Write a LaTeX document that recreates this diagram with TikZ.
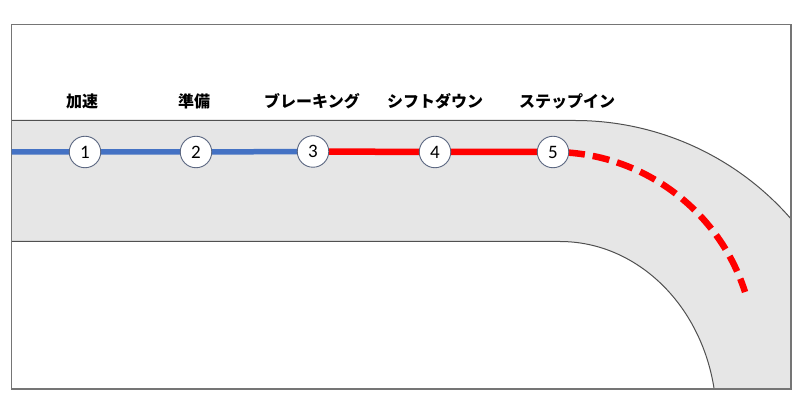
\documentclass[tikz,border=0pt]{standalone}
\usepackage{fontspec}
\setmainfont{Carlito}
\newfontfamily\jp{Noto Sans CJK JP}
\definecolor{bluec}{HTML}{4472C4}
\definecolor{roadgray}{HTML}{E6E6E6}
\definecolor{framec}{HTML}{757575}
\definecolor{edgec}{HTML}{505050}
\definecolor{ringc}{HTML}{5A6680}
\pgfdeclarelayer{road}
\pgfdeclarelayer{lines}
\pgfsetlayers{road,lines,main}
\begin{document}
\begin{tikzpicture}[x=1pt,y=1pt,
  roadedge/.style={draw=edgec, line width=1pt},
  stop/.style={circle, draw=ringc, fill=white, line width=0.9pt, minimum size=31.5pt, inner sep=0pt, font=\fontsize{19}{19}\selectfont},
  lbl/.style={font=\jp\bfseries\fontsize{16}{16}\selectfont},
  blueline/.style={draw=bluec, line width=5.5pt},
  redline/.style={draw=red, line width=6.5pt}]
\useasboundingbox (0,0) rectangle (800,420);
% stops
\node[stop] (c1) at (85,268) {1};
\node[stop] (c2) at (196,268) {2};
\node[stop] (c3) at (313,268.5) {3};
\node[stop] (c4) at (435,268) {4};
\node[stop] (c5) at (553,268) {5};
% labels
\node[lbl] (l1) at (82,319) {加速};
\node[lbl] (l2) at (194,319) {準備};
\node[lbl] (l3) at (312,319) {ブレーキング};
\node[lbl] (l4) at (435,319) {シフトダウン};
\node[lbl] (l5) at (567,319) {ステップイン};
\begin{pgfonlayer}{road}
\fill[roadgray] (11.5,299.5) -- (575,299.5) arc[start angle=90,end angle=41.2,radius=286.3]
  -- (791,201.8) -- (791,31) -- (714.1,31)
  arc[start angle=10,end angle=90,x radius=156.5,y radius=178.5] -- (11.5,178.5) -- cycle;
\draw[roadedge] (11.5,299.5) -- (575,299.5) arc[start angle=90,end angle=41.2,radius=286.3];
\draw[roadedge] (11.5,178.5) -- (560,178.5) arc[start angle=90,end angle=10,x radius=156.5,y radius=178.5];
\draw[framec, line width=1.5pt] (11.5,31) rectangle (791,395.5);
\end{pgfonlayer}
\begin{pgfonlayer}{lines}
\coordinate (w) at (11.5,268);
\draw[blueline] (w) -- (c1.center) -- (c2.center) -- (c3.center);
\draw[redline] (c3.center) -- (c4.center) -- (c5.center);
\draw[redline, dash pattern=on 17pt off 8pt, dash phase=10pt] (c5.center) arc[start angle=90,end angle=17.8,radius=201.7];
\end{pgfonlayer}
\end{tikzpicture}
\end{document}
